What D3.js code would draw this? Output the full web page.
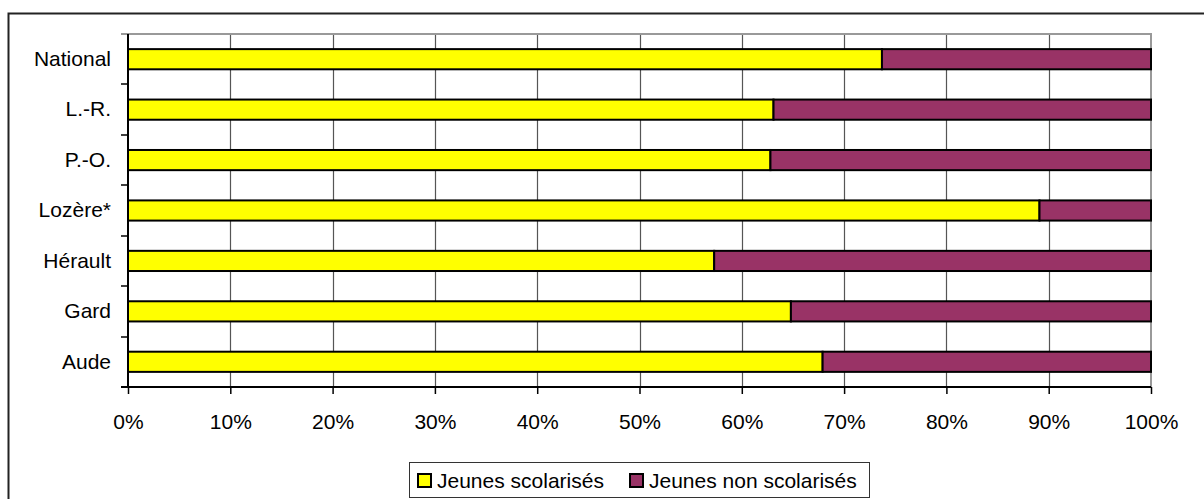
<!DOCTYPE html>
<html>
<head>
<meta charset="utf-8">
<script src="https://cdn.jsdelivr.net/npm/d3@7"></script>
<style>
  body { margin: 0; background: #fff; }
  text { font-family: "Liberation Sans", Arial, sans-serif; }
</style>
</head>
<body>
<div id="chart"></div>
<script>
// Data (top to bottom)
const categories = ["National", "L.-R.", "P.-O.", "Lozère*", "Hérault", "Gard", "Aude"];
const scolarises = [73.7, 63.1, 62.8, 89.1, 57.3, 64.8, 67.9];
const nonScolarises = [26.3, 36.9, 37.2, 10.9, 42.7, 35.2, 32.1];
const seriesNames = ["Jeunes scolarisés", "Jeunes non scolarisés"];
const seriesColors = ["#ffff00", "#993366"];
const xTicks = [0, 10, 20, 30, 40, 50, 60, 70, 80, 90, 100];

const width = 1204, height = 499;
const plot = { left: 128, right: 1151, top: 34, bottom: 387 };

let svg = d3.select("#chart")
    .append("svg")
    .attr("width", width)
    .attr("height", height);

// outer frame (runs off the right and bottom edges)
svg.append("rect")
    .attr("x", 8.5).attr("y", 13.5)
    .attr("width", 1400).attr("height", 700)
    .attr("fill", "none")
    .attr("stroke", "#222")
    .attr("stroke-width", 2);

let x = d3.scaleLinear()
    .domain([0, 100])
    .range([plot.left, plot.right]);

let y = d3.scaleBand()
    .domain(categories)
    .range([plot.top, plot.bottom])
    .paddingInner(0.6)
    .paddingOuter(0.3);

// vertical gridlines
svg.append("g")
    .selectAll("line")
    .data(xTicks.slice(1, -1))
    .enter()
    .append("line")
        .attr("x1", d => Math.round(x(d)) + 0.5)
        .attr("x2", d => Math.round(x(d)) + 0.5)
        .attr("y1", plot.top)
        .attr("y2", plot.bottom)
        .attr("stroke", "#555")
        .attr("stroke-width", 1.2);

// plot border top and right (grey)
svg.append("path")
    .attr("d", `M${plot.left - 7},${plot.top}H${plot.right}V${plot.bottom}`)
    .attr("fill", "none")
    .attr("stroke", "#999")
    .attr("stroke-width", 2);

// stacked bars
let rows = categories.map((c, i) => ({ cat: c, s: scolarises[i], n: nonScolarises[i] }));
let stacked = d3.stack().keys(["s", "n"])(rows);

svg.append("g")
    .selectAll("g")
    .data(stacked)
    .enter()
    .append("g")
        .attr("fill", (d, i) => seriesColors[i])
    .selectAll("rect")
    .data(d => d)
    .enter()
    .append("rect")
        .attr("x", d => x(d[0]))
        .attr("y", d => y(d.data.cat))
        .attr("width", d => x(d[1]) - x(d[0]))
        .attr("height", y.bandwidth())
        .attr("stroke", "#000")
        .attr("stroke-width", 2);

// y axis line with ticks at category boundaries
let step = y.step();
let yBounds = d3.range(categories.length + 1).map(i => plot.top + i * step);
svg.append("line")
    .attr("x1", plot.left).attr("x2", plot.left)
    .attr("y1", plot.top).attr("y2", plot.bottom)
    .attr("stroke", "#000").attr("stroke-width", 2);
svg.append("g")
    .selectAll("line")
    .data(yBounds.slice(1))
    .enter()
    .append("line")
        .attr("x1", plot.left - 7).attr("x2", plot.left)
        .attr("y1", d => Math.round(d)).attr("y2", d => Math.round(d))
        .attr("stroke", "#000").attr("stroke-width", 1.5);

// category labels
svg.append("g")
    .attr("transform", `translate(${plot.left}, 0)`)
    .call(d3.axisLeft(y).tickSize(0).tickPadding(17))
    .call(g => g.select(".domain").remove())
    .selectAll("text")
        .style("font-size", "21px")
        .style("fill", "#000");

// x axis
svg.append("g")
    .attr("transform", `translate(0, ${plot.bottom})`)
    .call(d3.axisBottom(x).tickValues(xTicks).tickSize(7).tickPadding(20).tickFormat(d => d + "%"))
    .call(g => g.select(".domain")
        .attr("d", `M${plot.left - 7},0H${plot.right}`)
        .attr("stroke-width", 2))
    .call(g => g.selectAll(".tick line").attr("stroke-width", 1.5))
    .selectAll("text")
        .style("font-size", "21px")
        .style("fill", "#000");

// legend
let legend = svg.append("g").attr("transform", "translate(409, 462)");
legend.append("rect")
    .attr("x", 0.5).attr("y", 0.5)
    .attr("width", 460).attr("height", 35)
    .attr("fill", "#fff")
    .attr("stroke", "#333")
    .attr("stroke-width", 1);

let legendX = [9, 221];
seriesNames.forEach((name, i) => {
    legend.append("rect")
        .attr("x", legendX[i]).attr("y", 12)
        .attr("width", 13).attr("height", 13)
        .attr("fill", seriesColors[i])
        .attr("stroke", "#000")
        .attr("stroke-width", 2);
    legend.append("text")
        .attr("x", legendX[i] + 19)
        .attr("y", 18)
        .attr("dy", "0.36em")
        .style("font-size", "21px")
        .text(name);
});
</script>
</body>
</html>
